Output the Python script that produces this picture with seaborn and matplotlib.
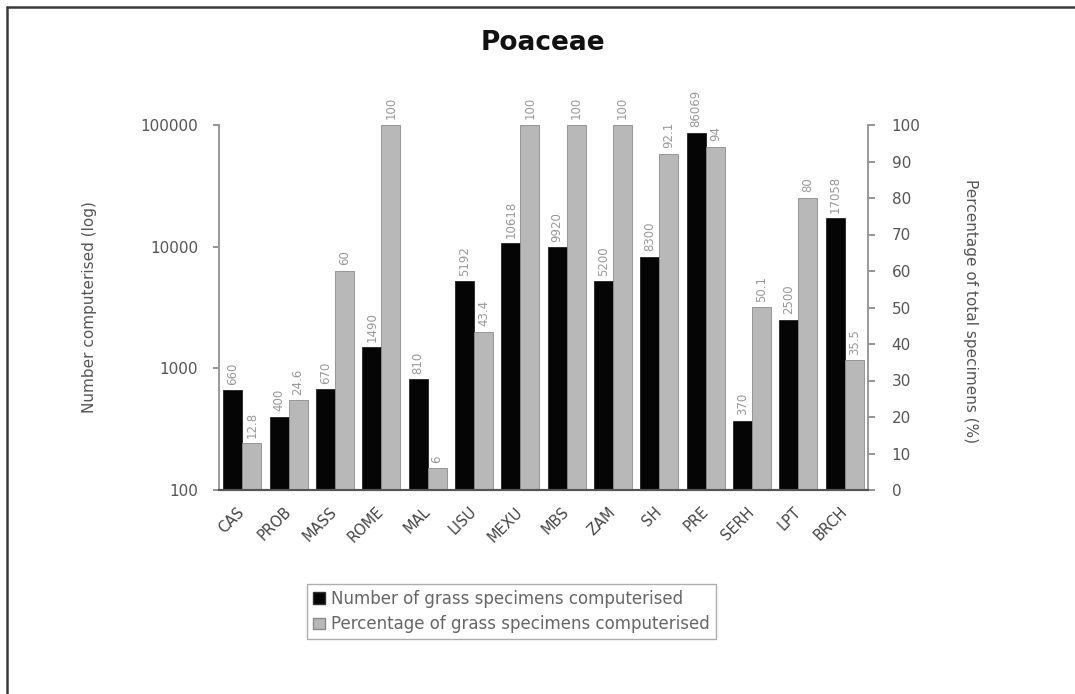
import matplotlib
matplotlib.use("Agg")
import matplotlib.pyplot as plt
from matplotlib.lines import Line2D
from matplotlib.patches import Patch
import seaborn as sns
import pandas as pd

sns.set_theme(style="white")
plt.rcParams["font.family"] = ["DejaVu Sans"]

herbaria = ["CAS", "PROB", "MASS", "ROME", "MAL", "LISU", "MEXU",
            "MBS", "ZAM", "SH", "PRE", "SERH", "LPT", "BRCH"]
counts = [660, 400, 670, 1490, 810, 5192, 10618, 9920, 5200, 8300, 86069, 370, 2500, 17058]
percent = [12.8, 24.6, 60, 100, 6, 43.4, 100, 100, 100, 92.1, 94, 50.1, 80, 35.5]

count_name = "Number of grass specimens computerised"
pct_name = "Percentage of grass specimens computerised"

df_count = pd.DataFrame({"herbarium": herbaria, "value": counts, "series": count_name})
df_pct = pd.DataFrame({"herbarium": herbaria, "value": percent, "series": pct_name})
hue_order = [count_name, pct_name]
palette = {count_name: "#050505", pct_name: "#b8b8b8"}

W, H = 1075, 694
fig = plt.figure(figsize=(W / 100, H / 100), dpi=100)
x0, x1, ybot, ytop = 219, 868, 490, 125
ax1 = fig.add_axes([x0 / W, 1 - ybot / H, (x1 - x0) / W, (ybot - ytop) / H])
ax1.set_yscale("log")

sns.barplot(data=df_count, x="herbarium", y="value", hue="series",
            hue_order=hue_order, order=herbaria, palette=palette, dodge=True,
            width=0.82, edgecolor="#222222", linewidth=0.6,
            legend=False, ax=ax1)
ax1.set_ylim(100, 100000)
ax1.set_xlim(-0.5, len(herbaria) - 0.5)

ax2 = ax1.twinx()
sns.barplot(data=df_pct, x="herbarium", y="value", hue="series",
            hue_order=hue_order, order=herbaria, palette=palette, dodge=True,
            width=0.82, edgecolor="#8a8a8a", linewidth=0.6,
            legend=False, ax=ax2)
ax2.set_ylim(0, 100)
ax2.set_xlim(-0.5, len(herbaria) - 0.5)


def label_bars(ax, values):
    for c in ax.containers:
        if len(c) == len(values) and all(p is not None for p in c):
            ax.bar_label(c, labels=[f"{v:g}" for v in values], rotation=90,
                         padding=4, fontsize=8.5, color="#999999")


label_bars(ax1, counts)
label_bars(ax2, percent)

# left (log) axis
ax1.set_yticks([100, 1000, 10000, 100000])
ax1.set_yticklabels(["100", "1000", "10000", "100000"])
ax1.minorticks_off()
ax1.tick_params(axis="y", labelsize=11, colors="#555555", length=4, left=True,
                pad=11, color="#888888")
ax1.tick_params(axis="x", labelsize=10.5, colors="#444444", length=0, pad=14)
for lbl in ax1.get_xticklabels():
    lbl.set_rotation(45)
    lbl.set_ha("right")
    lbl.set_va("center")
    lbl.set_rotation_mode("anchor")
ax1.set_xlabel("")
ax1.set_ylabel("Number computerised (log)", fontsize=11, color="#555555")
ax1.yaxis.set_label_coords(-0.188, 0.5)

# right (percentage) axis
ax2.set_yticks(range(0, 101, 10))
ax2.tick_params(axis="y", labelsize=11, colors="#555555", length=5, right=True,
                pad=12, color="#888888")
ax2.set_xlabel("")
ax2.set_ylabel("Percentage of total specimens (%)", fontsize=11, color="#555555",
               rotation=270, va="bottom")
ax2.yaxis.set_label_coords(1.146, 0.49)

for ax in (ax1, ax2):
    ax.spines["top"].set_visible(False)
    for s in ("left", "right"):
        ax.spines[s].set_color("#999999")
        ax.spines[s].set_linewidth(1.2)
    ax.spines["bottom"].set_color("#555555")
    ax.spines["bottom"].set_linewidth(1.5)
    ax.grid(False)

fig.text(0.505, 1 - 43 / H, "Poaceae", ha="center", va="center",
         fontsize=19, fontweight="bold", color="#111111")

handles = [Patch(facecolor="#050505", edgecolor="#333333", label=count_name),
           Patch(facecolor="#b8b8b8", edgecolor="#8a8a8a", label=pct_name)]
leg = fig.legend(handles=handles, loc="upper left",
                 bbox_to_anchor=(307 / W, 1 - 584 / H),
                 bbox_transform=fig.transFigure, borderaxespad=0,
                 fontsize=12, frameon=True, fancybox=False,
                 handlelength=0.7, handleheight=0.7, handletextpad=0.4,
                 borderpad=0.35, labelspacing=0.45)
leg.get_frame().set_edgecolor("#999999")
leg.get_frame().set_linewidth(1.0)
for t in leg.get_texts():
    t.set_color("#666666")

# outer frame lines (top and left)
fig.add_artist(Line2D([7 / W, 1.0], [1 - 7 / H, 1 - 7 / H],
                      transform=fig.transFigure, color="#3a3a3a", linewidth=1.8))
fig.add_artist(Line2D([7 / W, 7 / W], [0.0, 1 - 7 / H],
                      transform=fig.transFigure, color="#3a3a3a", linewidth=1.8))

fig.savefig("out.png", dpi=100, facecolor="white")
